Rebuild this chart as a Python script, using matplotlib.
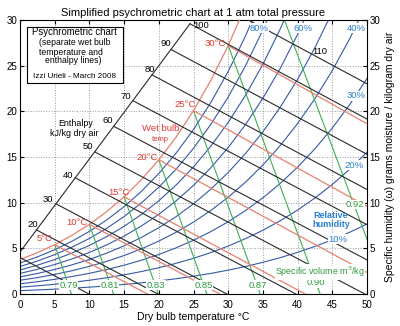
import numpy as np
import matplotlib.pyplot as plt
from matplotlib.patches import Rectangle

plt.rcParams['font.family'] = ['Liberation Sans', 'DejaVu Sans']

# saturation vapour pressure table (kPa) vs dry bulb temperature (C)
temp_c = [0, 2.5, 5, 7.5, 10, 12.5, 15, 17.5, 20, 22.5, 25, 27.5, 30,
          32.5, 35, 37.5, 40, 42.5, 45, 47.5, 50]
p_sat = [0.6113, 0.7317, 0.8725, 1.0375, 1.2281, 1.4497, 1.7056, 2.0004,
         2.3388, 2.7262, 3.1690, 3.6733, 4.2455, 4.8939, 5.6267, 6.4523,
         7.3814, 8.4239, 9.5898, 10.892, 12.344]
p_atm = 101.325
rh_levels = [10, 20, 30, 40, 50, 60, 70, 80, 90]

# enthalpy lines kJ/kg (start / end points, g/kg)
enth_h = [10, 20, 30, 40, 50, 60, 70, 80, 90, 100, 110]
enth_t0 = [0, 2.35, 5.18, 7.96, 10.75, 13.5, 16.25, 19.02, 21.75, 24.5, 32.93]
enth_w0 = [4.0, 7.03, 9.88, 12.72, 15.57, 18.37, 21.18, 24.0, 26.78, 29.59, 30.0]
enth_t1 = [9.94, 19.88, 29.82, 39.76, 49.70, 50, 50, 50, 50, 50, 50]
enth_w1 = [0, 0, 0, 0, 0, 3.74, 7.59, 11.45, 15.30, 19.16, 23.02]
enth_scale_t = [0, 24.5]
enth_scale_w = [4.6, 29.59]

# wet bulb lines
wb_temp = [5, 10, 15, 20, 25, 30]
wb_w0 = [5.40, 7.63, 10.65, 14.70, 20.08, 27.20]
wb_t1 = [18.36, 28.79, 41.1, 50, 50, 50]
wb_w1 = [0, 0, 0, 2.35, 9.60, 18.64]

# specific volume lines m3/kg
vol_label = ['0.79', '0.81', '0.83', '0.85', '0.87', '0.90', '0.92']
vol_t0 = [5, 10, 15, 20, 25, 30, 38.11]
vol_w0 = [5.40, 7.63, 10.65, 14.70, 20.08, 27.20, 30.0]
vol_t1 = [7.41, 13.48, 19.94, 26.93, 34.62, 43.24, 50]
vol_w1 = [0, 0, 0, 0, 0, 0, 6.0]

red = '#e8806f'
red_txt = '#e2382c'
blue = '#3559a6'
blue_txt = '#2a7fd0'
green = '#3fae55'
green_txt = '#2e9a3e'
black = '#2a2a2a'

fig = plt.figure(figsize=(4, 3.26), dpi=100)
ax = fig.add_axes([0.05, 0.098, 0.8675, 0.8405])

T = np.array(temp_c)
ps = np.array(p_sat)
for rh in rh_levels:
    pv = rh / 100 * ps
    ax.plot(T, 622 * pv / (p_atm - pv), color=blue, lw=0.8, zorder=2)
ax.plot(T, 622 * ps / (p_atm - ps), color=red, lw=0.9, zorder=3)

for i in range(len(vol_label)):
    ax.plot([vol_t0[i], vol_t1[i]], [vol_w0[i], vol_w1[i]], color=green, lw=0.8, zorder=2)
for i in range(len(wb_temp)):
    ax.plot([wb_temp[i], wb_t1[i]], [wb_w0[i], wb_w1[i]], color=red, lw=0.9, zorder=3)
for i in range(len(enth_h)):
    ax.plot([enth_t0[i], enth_t1[i]], [enth_w0[i], enth_w1[i]], color=black, lw=0.8, zorder=3)
ax.plot(enth_scale_t, enth_scale_w, color=black, lw=0.8, zorder=3)

fs = 6.8
wb_pos = [(3.6, 6.1), (8.2, 7.8), (14.3, 11.1), (18.3, 15.0), (23.8, 20.7), (28.2, 27.4)]
for t, (x, y) in zip(wb_temp, wb_pos):
    ax.text(x, y, f'{t}°C', color=red_txt, fontsize=fs, ha='center', va='center', zorder=5)
ax.text(20.2, 18.1, 'Wet bulb', color=red_txt, fontsize=fs, ha='center', va='center', zorder=5)
ax.text(20.2, 16.9, 'temp', color=red_txt, fontsize=5.5, ha='center', va='center', zorder=5)

enth_pos = [None, (1.9, 7.6), (3.96, 10.3), (6.9, 13.0), (9.8, 16.2), (12.6, 19.0),
            (15.2, 21.6), (18.7, 24.6), (21.0, 27.4), (26.1, 29.45), (43.2, 26.6)]
for h, p in zip(enth_h, enth_pos):
    if p is not None:
        ax.text(p[0], p[1], str(h), color='black', fontsize=fs, ha='center', va='center', zorder=5)
ax.text(8.0, 18.7, 'Enthalpy', color='black', fontsize=6.4, ha='center', va='center', zorder=5)
ax.text(7.8, 17.6, 'kJ/kg dry air', color='black', fontsize=6.4, ha='center', va='center', zorder=5)

white = dict(facecolor='white', edgecolor='none', pad=0.3)
rh_pos = {'80%': (34.5, 29.1), '60%': (40.8, 29.1), '40%': (48.4, 29.1),
          '30%': (48.5, 21.7), '20%': (48.2, 14.1), '10%': (45.8, 6.0)}
for k, (x, y) in rh_pos.items():
    ax.text(x, y, k, color=blue_txt, fontsize=fs, ha='center', va='center', bbox=white, zorder=5)
ax.text(44.8, 8.1, 'Relative\nhumidity', color=blue_txt, fontsize=6.5, ha='center',
        va='center', linespacing=1.0, fontweight='bold', zorder=5)

vol_pos = [(7.0, 0.95), (12.9, 0.95), (19.6, 0.95), (26.5, 0.95), (34.3, 0.95),
           (42.7, 1.25), (48.3, 9.8)]
for lab, (x, y) in zip(vol_label, vol_pos):
    ax.text(x, y, lab, color=green_txt, fontsize=fs, ha='center', va='center', bbox=white, zorder=5)
ax.text(43.2, 2.4, 'Specific volume m$^3$/kg', color=green_txt, fontsize=6.4,
        ha='center', va='center', bbox=white, zorder=5)

ax.add_patch(Rectangle((1.0, 23.1), 13.8, 6.1, facecolor='white', edgecolor='black', lw=0.8, zorder=6))
ax.text(7.9, 28.65, 'Psychrometric chart', fontsize=6.9, ha='center', va='center', zorder=7)
ax.text(7.9, 27.55, '(separate wet bulb', fontsize=6.2, ha='center', va='center', zorder=7)
ax.text(7.3, 26.5, 'temperature and', fontsize=6.2, ha='center', va='center', zorder=7)
ax.text(7.7, 25.55, 'enthalpy lines)', fontsize=6.2, ha='center', va='center', zorder=7)
ax.text(7.9, 23.8, 'Izzi Urieli - March 2008', fontsize=5.9, ha='center', va='center', zorder=7)

ax.set_xlim(0, 50)
ax.set_ylim(0, 30)
ax.set_xticks(range(0, 51, 5))
ax.set_yticks(range(0, 31, 5))
ax.grid(True, linestyle=':', color='#9a9a9a', lw=0.7)
ax.tick_params(direction='in', labelsize=7, top=True, right=True, labelright=True, length=3, pad=2)
ax.tick_params(axis='x', pad=4)
ax.set_title('Simplified psychrometric chart at 1 atm total pressure', fontsize=8, pad=3)
ax.set_xlabel('Dry bulb temperature °C', fontsize=7.5, labelpad=2)
ax.yaxis.set_label_position('right')
ax.set_ylabel('Specific humidity (ω) grams moisture / kilogram dry air', fontsize=7.5, labelpad=3)
for s in ax.spines.values():
    s.set_linewidth(0.8)

fig.savefig('out.png', dpi=100)
